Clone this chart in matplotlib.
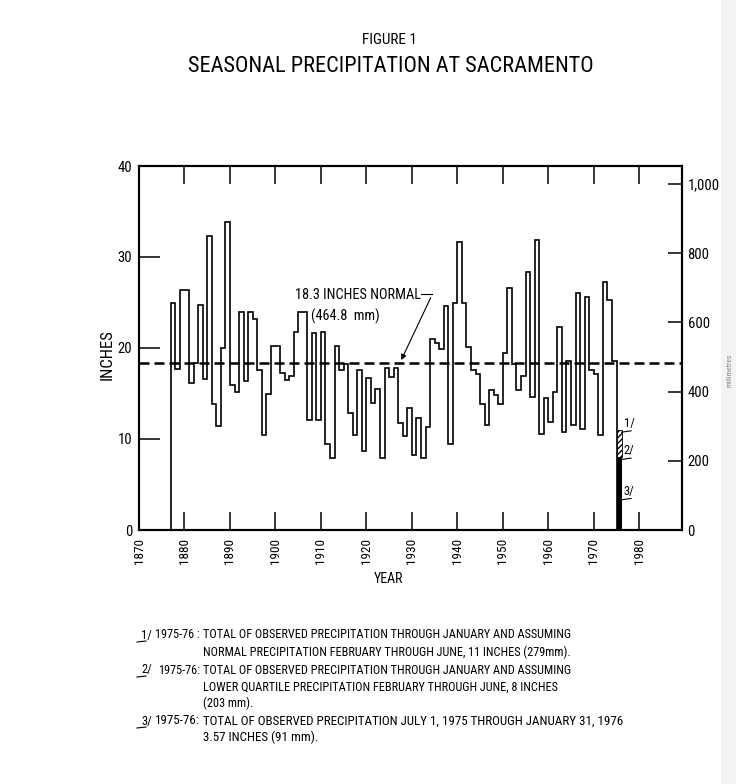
import matplotlib

matplotlib.use("Agg")
import matplotlib.pyplot as plt
import numpy as np
from matplotlib import font_manager
from matplotlib.lines import Line2D
from matplotlib.patches import Rectangle

# seasonal totals (inches), one value per season starting 1877
start_year = 1877
seasonal_inches = [
    24.9, 17.7, 26.4, 26.4, 16.1, 18.3, 24.7, 16.6, 32.3, 13.9,   # 1877-1886
    11.4, 20.0, 33.8, 15.9, 15.2, 24.0, 16.4, 24.0, 23.2, 17.6,   # 1887-1896
    10.4, 15.0, 20.2, 20.2, 17.3, 16.5, 16.9, 21.8, 24.0, 24.0,   # 1897-1906
    12.1, 21.7, 12.1, 21.8, 9.5, 7.9, 20.2, 17.6, 18.2, 12.9,     # 1907-1916
    10.4, 17.6, 8.7, 16.7, 14.0, 15.5, 7.9, 17.8, 16.8, 17.8,     # 1917-1926
    11.8, 10.3, 13.4, 8.2, 12.3, 7.95, 11.35, 20.95, 20.5, 19.9,  # 1927-1936
    24.6, 9.5, 25.0, 31.7, 25.0, 20.1, 17.6, 17.1, 13.9, 11.5,    # 1937-1946
    15.4, 14.8, 13.9, 19.4, 26.6, 18.2, 15.4, 16.9, 28.3, 14.65,  # 1947-1956
    31.9, 10.6, 14.5, 11.9, 15.2, 22.3, 10.8, 18.6, 11.5, 26.0,   # 1957-1966
    11.1, 25.6, 17.6, 17.1, 10.4, 27.3, 25.3, 18.6,               # 1967-1974
]
normal_inches = 18.3
season_1975 = 1975
season_1975_lower_quartile = 8.0
season_1975_normal = 11.0
season_1975_observed = 3.57

decade_ticks = list(range(1870, 1990, 10))
inch_ticks = [0, 10, 20, 30, 40]
mm_ticks = [0, 200, 400, 600, 800, 1000]
mm_labels = ["0", "200", "400", "600", "800", "1,000"]

notes = [
    ("1", "1975-76 :", ["TOTAL OF OBSERVED PRECIPITATION THROUGH JANUARY AND ASSUMING",
                        "NORMAL PRECIPITATION FEBRUARY THROUGH JUNE, 11 INCHES (279mm)."]),
    ("2", "1975-76:", ["TOTAL OF OBSERVED PRECIPITATION THROUGH JANUARY AND ASSUMING",
                       "LOWER QUARTILE PRECIPITATION FEBRUARY THROUGH JUNE, 8 INCHES",
                       "(203 mm)."]),
    ("3", "1975-76:", ["TOTAL OF OBSERVED PRECIPITATION JULY 1, 1975 THROUGH JANUARY 31, 1976",
                       "3.57 INCHES (91 mm)."]),
]

# pick a narrow sans if there is one, lettering on the original is condensed
names = {f.name for f in font_manager.fontManager.ttflist}
font = "DejaVu Sans"
for fam in ["Roboto Condensed", "Liberation Sans Narrow", "DejaVu Sans Condensed", "DejaVu Sans"]:
    if fam in names:
        font = fam
        break
plt.rcParams["font.family"] = font

W, H = 736, 784
fig = plt.figure(figsize=(W / 100, H / 100), dpi=100)


def fx(px):
    return px / W


def fy(py):
    return 1 - py / H


# faint page edge on the right
fig.add_artist(Rectangle((fx(721), 0), fx(736) - fx(721), 1, transform=fig.transFigure,
                         facecolor="#f3f3f3", edgecolor="none", zorder=0))

ax = fig.add_axes([fx(139), fy(530), fx(682) - fx(139), fy(166) - fy(530)])
ax.set_xlim(1870, 1989.4)
ax.set_ylim(0, 40)

edges = np.arange(start_year, start_year + len(seasonal_inches) + 1)
ax.stairs(seasonal_inches, edges, baseline=0, color="black", lw=1.2)
ax.axhline(normal_inches, color="black", lw=1.8, ls=(0, (4, 2)))

# 1975-76 season (partial)
ax.bar(season_1975, season_1975_lower_quartile, width=1.1, align="edge", color="black", lw=0)
ax.bar(season_1975, season_1975_normal - season_1975_lower_quartile, bottom=season_1975_lower_quartile,
       width=1.1, align="edge", facecolor="white", edgecolor="black", hatch="//////", lw=0.6)
for lab, yv in [("1/", season_1975_normal), ("2/", season_1975_lower_quartile), ("3/", season_1975_observed)]:
    ax.plot([1976.1, 1978.2], [yv - 0.25, yv - 0.1], color="black", lw=0.8)
    ax.text(1976.6, yv, lab, fontsize=9, ha="left", va="bottom")

ax.annotate("", xy=(1927.4, 18.4), xytext=(1934.4, 25.8),
            arrowprops=dict(arrowstyle="-|>", color="black", lw=0.8, mutation_scale=8))
ax.plot([1932.0, 1934.4], [25.95, 25.95], color="black", lw=0.8)
ax.text(1904.3, 25.8, "18.3 INCHES NORMAL", fontsize=10.3, va="center", ha="left")
ax.text(1907.8, 23.5, "(464.8  mm)", fontsize=10.3, va="center", ha="left")

ax.set_xticks(decade_ticks)
ax.set_xticklabels([str(y) for y in decade_ticks], rotation=90, fontsize=9.5)
ax.set_yticks(inch_ticks)
ax.set_yticklabels([str(v) for v in inch_ticks], fontsize=10.5)
ax.tick_params(axis="x", direction="in", length=13, width=1.1, top=True, pad=6)
ax.tick_params(axis="y", direction="in", length=15, width=1.1, pad=5)
for s in ax.spines.values():
    s.set_linewidth(1.5)

ax2 = ax.twinx()
ax2.set_ylim(0, 1052)
ax2.set_yticks(mm_ticks)
ax2.set_yticklabels(mm_labels, fontsize=10.5)
ax2.tick_params(axis="y", direction="in", length=10, width=1.1, pad=4)
for s in ax2.spines.values():
    s.set_linewidth(1.5)

fig.text(fx(107), fy(355), "INCHES", rotation=90, fontsize=12, ha="center", va="center")
fig.text(fx(388), fy(579), "YEAR", fontsize=10, ha="center", va="center")
fig.text(fx(729), fy(370), "millimetres", rotation=90, fontsize=5.5, color="#888888",
         ha="center", va="center")

fig.text(fx(389), fy(40), "FIGURE 1", fontsize=11, ha="center", va="center")
fig.text(fx(391), fy(66), "SEASONAL PRECIPITATION AT SACRAMENTO", fontsize=16,
         ha="center", va="center")

# footnotes
rows = [[635, 652], [670, 687, 703], [721, 737]]
sizes = [8.8, 8.8, 9.4]
for (num, tag, lines), ys, fs in zip(notes, rows, sizes):
    fig.text(fx(141), fy(ys[0]), num + "/", fontsize=9, ha="left", va="center")
    fig.add_artist(Line2D([fx(137), fx(146)], [fy(ys[0] + 7), fy(ys[0] + 6)],
                          transform=fig.transFigure, color="black", lw=0.8))
    fig.text(fx(200), fy(ys[0]), tag, fontsize=fs, ha="right", va="center")
    for line, yy in zip(lines, ys):
        fig.text(fx(203), fy(yy), line, fontsize=fs, ha="left", va="center")

fig.savefig("out.png", dpi=100, facecolor="white")
